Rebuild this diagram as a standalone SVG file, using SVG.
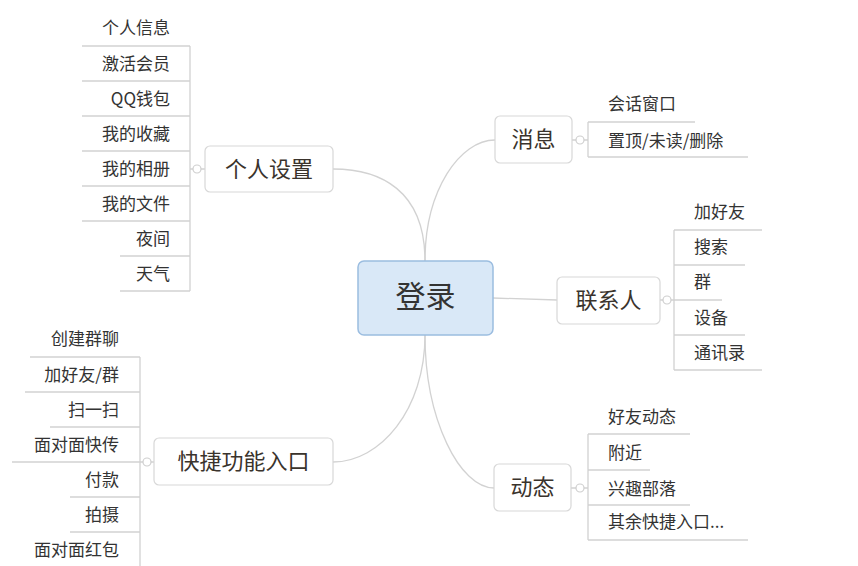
<svg xmlns="http://www.w3.org/2000/svg" width="858" height="566" viewBox="0 0 858 566">
<style>
text{font-family:"Noto Sans CJK SC","Liberation Sans",sans-serif;fill:#333}
.leaf{font-size:17px}
.lbl{font-size:22px;fill:#3a332c}
.box{fill:#fff;stroke:#d8d8d8;stroke-width:1.2}
.ln{fill:none;stroke:#d2d2d2;stroke-width:1.3}
.dot{fill:#fff;stroke:#cfcfcf;stroke-width:1.2}
</style>
<rect width="858" height="566" fill="#fff"/>
<g id="connectors">
<path class="ln" d="M425,261 C425,190 380,169 333,169"/>
<path class="ln" d="M425,261 C425,190 460,140 495,140"/>
<path class="ln" d="M493,298 L557,300"/>
<path class="ln" d="M425,335 C425,410 380,462 333,462"/>
<path class="ln" d="M425,335 C425,420 460,488 494,488"/>
<path class="ln" d="M190,46 V291 M82,46 H190 M82,81 H190 M82,116 H190 M82,151 H190 M82,186 H190 M82,221 H190 M120,256 H190 M120,291 H190 M190,169 H205"/>
<path class="ln" d="M140,357 V566 M30,357 H140 M25,392 H140 M50,427 H140 M12,462 H154 M70,497 H140 M70,532 H140"/>
<path class="ln" d="M588,122 V157 M588,122 H695 M588,157 H748 M572,140 H588"/>
<path class="ln" d="M674,230 V370 M674,230 H762 M674,265 H745 M674,300 H722 M674,335 H745 M674,370 H762 M660,300 H674"/>
<path class="ln" d="M588,434 V540 M588,434 H690 M588,470 H650 M588,505 H690 M588,540 H748 M571,488 H588"/>
<circle class="dot" cx="197" cy="169" r="4"/>
<circle class="dot" cx="147" cy="462" r="4"/>
<circle class="dot" cx="580" cy="140" r="4"/>
<circle class="dot" cx="667" cy="300" r="4"/>
<circle class="dot" cx="580" cy="488" r="4"/>
</g>
<g id="root"><rect x="358" y="261" width="135" height="74" rx="6" fill="#d9e8f7" stroke="#9bbde0" stroke-width="1.5"/><text x="425.5" y="307" text-anchor="middle" style="font-size:30px">登录</text></g>
<g id="n-personal"><rect class="box" x="205" y="146" width="128" height="46" rx="5"/><text class="lbl" x="269" y="177" text-anchor="middle">个人设置</text></g>
<g id="n-quick"><rect class="box" x="154" y="438" width="179" height="47" rx="5"/><text class="lbl" x="243.5" y="469" text-anchor="middle">快捷功能入口</text></g>
<g id="n-msg"><rect class="box" x="495" y="116" width="77" height="47" rx="5"/><text class="lbl" x="533.5" y="147" text-anchor="middle">消息</text></g>
<g id="n-contact"><rect class="box" x="557" y="277" width="103" height="47" rx="5"/><text class="lbl" x="608.5" y="308" text-anchor="middle">联系人</text></g>
<g id="n-feed"><rect class="box" x="494" y="464" width="77" height="47" rx="5"/><text class="lbl" x="532.5" y="495" text-anchor="middle">动态</text></g>
<g id="leaves-personal" class="leaf" text-anchor="end">
<text class="leaf" x="170" y="34">个人信息</text>
<text class="leaf" x="170" y="70">激活会员</text>
<text class="leaf" x="170" y="105">QQ钱包</text>
<text class="leaf" x="170" y="140">我的收藏</text>
<text class="leaf" x="170" y="175">我的相册</text>
<text class="leaf" x="170" y="210">我的文件</text>
<text class="leaf" x="170" y="245">夜间</text>
<text class="leaf" x="170" y="280">天气</text>
</g>
<g id="leaves-quick" text-anchor="end">
<text class="leaf" x="119" y="345">创建群聊</text>
<text class="leaf" x="119" y="381">加好友/群</text>
<text class="leaf" x="119" y="416">扫一扫</text>
<text class="leaf" x="119" y="451">面对面快传</text>
<text class="leaf" x="119" y="486">付款</text>
<text class="leaf" x="119" y="521">拍摄</text>
<text class="leaf" x="119" y="556">面对面红包</text>
</g>
<g id="leaves-msg">
<text class="leaf" x="608" y="110">会话窗口</text>
<text class="leaf" x="608" y="147">置顶/未读/删除</text>
</g>
<g id="leaves-contact">
<text class="leaf" x="694" y="218">加好友</text>
<text class="leaf" x="694" y="253">搜索</text>
<text class="leaf" x="694" y="288">群</text>
<text class="leaf" x="694" y="324">设备</text>
<text class="leaf" x="694" y="359">通讯录</text>
</g>
<g id="leaves-feed">
<text class="leaf" x="608" y="423">好友动态</text>
<text class="leaf" x="608" y="459">附近</text>
<text class="leaf" x="608" y="495">兴趣部落</text>
<text class="leaf" x="608" y="528">其余快捷入口...</text>
</g>
</svg>
